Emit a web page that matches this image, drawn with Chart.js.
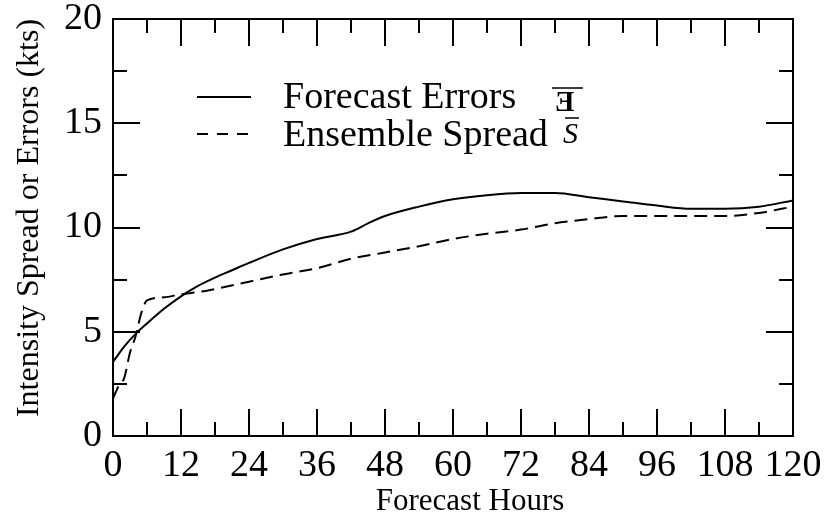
<!DOCTYPE html>
<html>
<head>
<meta charset="utf-8">
<script src="https://cdn.jsdelivr.net/npm/chart.js@4/dist/chart.umd.min.js"></script>
<style>
  html, body { margin: 0; padding: 0; background: #fff; }
  #wrap { width: 827px; height: 519px; }
</style>
</head>
<body>
<div id="wrap"><canvas id="errChart" width="827" height="519"></canvas></div>
<script>
// values
const errorHours = [0, 2, 4, 6, 9, 12, 15, 18, 21, 24, 30, 36, 42, 45, 48, 54, 60, 66, 72, 78, 84, 90, 96, 102, 108, 114, 120];
const errorValues = [3.55, 4.3, 4.9, 5.4, 6.1, 6.7, 7.2, 7.6, 7.95, 8.3, 8.95, 9.45, 9.8, 10.2, 10.55, 11.0, 11.35, 11.55, 11.65, 11.65, 11.45, 11.25, 11.05, 10.9, 10.9, 11.0, 11.3];

const spreadHours = [0, 1, 2, 3, 4, 5, 6, 9, 12, 15, 18, 24, 30, 36, 42, 48, 54, 60, 66, 72, 78, 84, 90, 96, 102, 108, 114, 120];
const spreadValues = [1.8, 2.4, 2.8, 4.0, 4.8, 5.9, 6.5, 6.65, 6.8, 6.9, 7.05, 7.4, 7.75, 8.05, 8.5, 8.8, 9.1, 9.45, 9.7, 9.9, 10.2, 10.4, 10.55, 10.55, 10.55, 10.55, 10.7, 11.0];

const seriesLabels = ['Forecast Errors', 'Ensemble Spread'];
const xTitle = 'Forecast Hours';
const yTitle = 'Intensity Spread or Errors (kts)';

const serif = "'Liberation Serif', 'DejaVu Serif', serif";

function toPoints(xs, ys) {
  return xs.map((x, i) => ({ x: x, y: ys[i] }));
}

// inward ticks on all four sides, frame, titles and the in-plot legend
const framePlugin = {
  id: 'frame',
  afterDraw(chart) {
    const ctx = chart.ctx;
    const area = chart.chartArea;
    const xs = chart.scales.x;
    const ys = chart.scales.y;
    ctx.save();
    ctx.strokeStyle = '#000';
    ctx.lineWidth = 2;
    ctx.strokeRect(area.left, area.top, area.right - area.left, area.bottom - area.top);

    ctx.beginPath();
    xs.ticks.forEach(t => {
      const px = Math.round(xs.getPixelForValue(t.value));
      if (px <= area.left + 1 || px >= area.right - 1) return;
      const len = t.value % 12 === 0 ? 27 : 14;
      ctx.moveTo(px, area.bottom); ctx.lineTo(px, area.bottom - len);
      ctx.moveTo(px, area.top); ctx.lineTo(px, area.top + len);
    });
    ys.ticks.forEach(t => {
      const py = Math.round(ys.getPixelForValue(t.value));
      if (py <= area.top + 1 || py >= area.bottom - 1) return;
      const len = t.value % 5 === 0 ? 27 : 14;
      ctx.moveTo(area.left, py); ctx.lineTo(area.left + len, py);
      ctx.moveTo(area.right, py); ctx.lineTo(area.right - len, py);
    });
    ctx.stroke();

    // axis titles
    ctx.fillStyle = '#000';
    ctx.font = '31px ' + serif;
    ctx.textAlign = 'center';
    ctx.textBaseline = 'middle';
    ctx.fillText(xTitle, 470, 502);
    ctx.save();
    ctx.translate(30, 218);
    ctx.rotate(-Math.PI / 2);
    ctx.font = '32px ' + serif;
    ctx.fillText(yTitle, 0, 0);
    ctx.restore();

    // legend
    ctx.lineWidth = 2;
    ctx.beginPath();
    ctx.moveTo(197, 97); ctx.lineTo(251, 97);
    ctx.stroke();
    ctx.setLineDash([11, 9]);
    ctx.beginPath();
    ctx.moveTo(197, 134); ctx.lineTo(251, 134);
    ctx.stroke();
    ctx.setLineDash([]);
    ctx.font = '38px ' + serif;
    ctx.textAlign = 'left';
    ctx.textBaseline = 'alphabetic';
    ctx.fillText(seriesLabels[0], 283, 108);
    ctx.fillText(seriesLabels[1], 283, 146);

    // mean symbols
    ctx.font = 'bold 29px ' + serif;
    ctx.fillText('\u018E', 555, 111);
    ctx.font = 'italic 30px ' + serif;
    ctx.fillText('S', 563, 143);
    ctx.lineWidth = 1.5;
    ctx.beginPath();
    ctx.moveTo(552, 88); ctx.lineTo(583, 88);
    ctx.moveTo(565, 118); ctx.lineTo(579, 118);
    ctx.stroke();
    ctx.restore();
  }
};

new Chart(document.getElementById('errChart'), {
  type: 'line',
  data: {
    datasets: [
      {
        label: seriesLabels[0],
        data: toPoints(errorHours, errorValues),
        borderColor: '#000',
        borderWidth: 2,
        pointRadius: 0,
        fill: false,
        cubicInterpolationMode: 'monotone'
      },
      {
        label: seriesLabels[1],
        data: toPoints(spreadHours, spreadValues),
        borderColor: '#000',
        borderWidth: 2,
        borderDash: [13, 7],
        pointRadius: 0,
        fill: false,
        cubicInterpolationMode: 'monotone'
      }
    ]
  },
  options: {
    responsive: false,
    animation: false,
    layout: { padding: { top: 19, right: 34, left: 0, bottom: 0 } },
    plugins: { legend: { display: false }, tooltip: { enabled: false } },
    scales: {
      x: {
        type: 'linear',
        min: 0,
        max: 120,
        afterFit(scale) {
          scale.height = 83;
          scale.paddingLeft = 0;
          scale.paddingRight = 0;
        },
        grid: { display: false, drawTicks: false },
        border: { display: false },
        ticks: {
          stepSize: 6,
          autoSkip: false,
          maxRotation: 0,
          padding: 7,
          color: '#000',
          font: { family: serif, size: 38 },
          callback: v => (v % 12 === 0 ? String(v) : '')
        }
      },
      y: {
        min: 0,
        max: 20,
        afterFit(scale) {
          scale.width = 113;
          scale.paddingTop = 0;
          scale.paddingBottom = 0;
        },
        grid: { display: false, drawTicks: false },
        border: { display: false },
        ticks: {
          stepSize: 2.5,
          autoSkip: false,
          padding: 11,
          color: '#000',
          font: { family: serif, size: 38 },
          callback: v => (v % 5 === 0 ? String(v) : '')
        }
      }
    }
  },
  plugins: [framePlugin]
});
</script>
</body>
</html>
